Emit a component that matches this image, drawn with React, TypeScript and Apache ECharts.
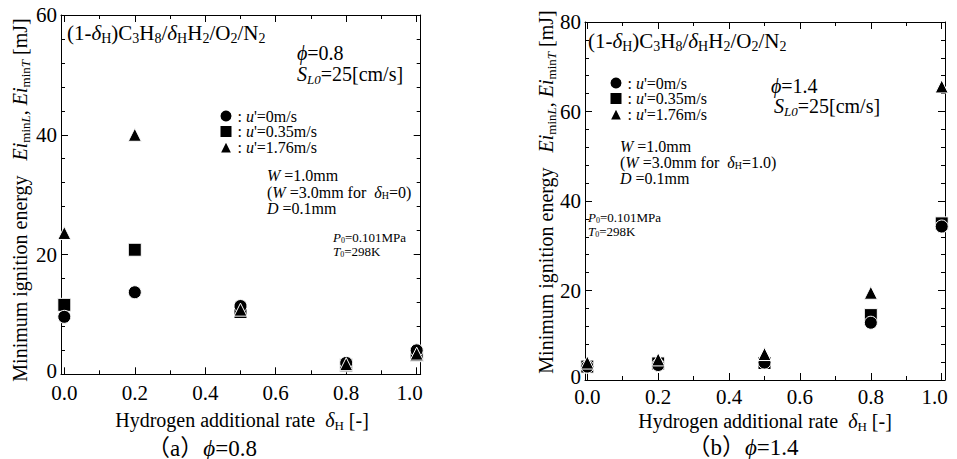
import React, { useEffect, useRef } from "react";
import * as echarts from "echarts";

// ---------- data ----------
const deltaH = [0, 0.2, 0.5, 0.8, 1.0];

// (a) phi = 0.8
const leftCircle = [9.6, 13.7, 11.4, 1.9, 4.0];
const leftSquare = [11.6, 20.8, 10.4, 1.5, 3.2];
const leftTriangle = [23.6, 40.0, 10.8, 1.7, 3.45];

// (b) phi = 1.4
const rightCircle = [3.0, 3.35, 3.9, 12.8, 34.3];
const rightSquare = [3.0, 3.7, 3.8, 14.5, 35.0];
const rightTriangle = [3.9, 4.6, 5.8, 19.5, 65.6];

const legendLabels = ["0m/s", "0.35m/s", "1.76m/s"];
const leftYMax = 60;
const rightYMax = 80;
const yInterval = 20;

const FONT = "Liberation Serif, Times New Roman, serif";
const CAPFONT = "Liberation Serif, Noto Sans CJK JP, serif";

function rich(size: number, family = FONT, lh?: number) {
  const sub = Math.round(size * 0.65);
  const L = lh ?? Math.round(size * 1.2);
  const subLH = Math.min(sub, L);
  return {
    n: { fontSize: size, fontFamily: family, lineHeight: L, fill: "#000", color: "#000" },
    i: { fontSize: size, fontFamily: family, fontStyle: "italic", lineHeight: L, fill: "#000", color: "#000" },
    s: { fontSize: sub, fontFamily: FONT, verticalAlign: "bottom", lineHeight: subLH, fill: "#000", color: "#000" },
    si: { fontSize: sub, fontFamily: FONT, fontStyle: "italic", verticalAlign: "bottom", lineHeight: subLH, fill: "#000", color: "#000" },
  };
}

function txt(x: number, y: number, text: string, size: number, align = "left", rotation = 0, family = FONT, lh?: number) {
  return {
    type: "text",
    x,
    y,
    rotation,
    silent: true,
    style: {
      text,
      rich: rich(size, family, lh),
      align,
      verticalAlign: "middle",
      fontSize: size,
      fontFamily: family,
      fill: "#000",
    },
  };
}

const formula = "{n|(1-}{i|δ}{s|H}{n|)C}{s|3}{n|H}{s|8}{n|/}{i|δ}{s|H}{n|H}{s|2}{n|/O}{s|2}{n|/N}{s|2}";
const yName = "{n|Minimum ignition energy   }{i|Ei}{s|min}{si|L}{n|, }{i|Ei}{s|min}{si|T}{n| [mJ]}";
const xName = "{n|Hydrogen additional rate  }{i|δ}{s|H}{n| [-]}";
const pBlock = "{i|P}{s|0}{n|=0.101MPa}\n{i|T}{s|0}{n|=298K}";
const wBlock = (d: string) =>
  "{i|W}{n| =1.0mm}\n{n|(}{i|W}{n| =3.0mm for  }{i|δ}{s|H}{n|=" + d + ")}\n{i|D}{n| =0.1mm}";

function xAxes(gridIndex: number, min: number, max: number, margin: number) {
  const base = {
    type: "value",
    gridIndex,
    min,
    max,
    splitLine: { show: false },
    axisLine: { show: true, onZero: false, lineStyle: { color: "#000", width: 1 } },
    axisTick: { show: true, inside: true, length: 7, lineStyle: { color: "#000" } },
    minorTick: { show: true, splitNumber: 2, length: 4, lineStyle: { color: "#000" } },
  };
  return [
    {
      ...base,
      position: "bottom",
      axisLabel: {
        show: true,
        margin,
        fontSize: 21,
        fontFamily: FONT,
        color: "#000",
        showMinLabel: true,
        showMaxLabel: true,
        formatter: (v: number) => {
          if (Math.abs(v * 5 - Math.round(v * 5)) > 1e-6) return "";
          const r = Math.round(v * 5) / 5;
          if (r === 1) return "{e|1.0}";
          return r.toFixed(1);
        },
        rich: { e: { fontSize: 21, fontFamily: FONT, color: "#000", padding: [0, 14, 0, 0] } },
      },
    },
    { ...base, position: "top", axisLabel: { show: false } },
  ];
}

function yAxes(gridIndex: number, max: number) {
  const base = {
    type: "value",
    gridIndex,
    min: 0,
    max,
    interval: yInterval,
    splitLine: { show: false },
    axisLine: { show: true, onZero: false, lineStyle: { color: "#000", width: 1 } },
    axisTick: { show: true, inside: true, length: 7, lineStyle: { color: "#000" } },
    minorTick: { show: true, splitNumber: 5, length: 4, lineStyle: { color: "#000" } },
  };
  return [
    {
      ...base,
      position: "left",
      axisLabel: {
        show: true,
        margin: 4,
        fontSize: 21,
        fontFamily: FONT,
        color: "#000",
        formatter: (v: number) => (v === 0 ? "{z|0}" : String(v)),
        rich: { z: { fontSize: 21, fontFamily: FONT, color: "#000", padding: [0, 0, 6, 0] } },
      },
    },
    { ...base, position: "right", axisLabel: { show: false } },
  ];
}

function series(prefix: string, xIdx: number, yIdx: number, c: number[], s: number[], t: number[]) {
  const mk = (name: string, arr: number[], symbol: string) => ({
    name,
    type: "scatter",
    xAxisIndex: xIdx,
    yAxisIndex: yIdx,
    symbol,
    symbolSize: 13,
    itemStyle: { color: "#000", opacity: 1, borderColor: "#fff", borderWidth: 1 },
    emphasis: { disabled: true },
    data: deltaH.map((x, i) => [x, arr[i]]),
  });
  // drawing order: square, circle, triangle (triangle on top)
  return [mk(prefix + "s", s, "rect"), mk(prefix + "c", c, "circle"), mk(prefix + "t", t, "triangle")];
}

function legend(prefix: string, left: number, top: number, lh: number, gap: number) {
  const names = [prefix + "c", prefix + "s", prefix + "t"];
  const fs = 16;
  return {
    data: names,
    orient: "vertical",
    left,
    top,
    itemWidth: 13,
    itemHeight: 13,
    itemGap: gap,
    padding: 0,
    selectedMode: false,
    itemStyle: { opacity: 1 },
    formatter: (name: string) => {
      const idx = names.indexOf(name);
      return "{n|: }{i|u}{n|'=" + legendLabels[idx] + "}";
    },
    textStyle: {
      fontFamily: FONT,
      fontSize: fs,
      color: "#000",
      rich: {
        n: { fontSize: fs, fontFamily: FONT, lineHeight: lh, color: "#000" },
        i: { fontSize: fs, fontFamily: FONT, fontStyle: "italic", lineHeight: lh, color: "#000" },
      },
    },
  };
}

export default function App() {
  const ref = useRef<HTMLDivElement>(null);
  useEffect(() => {
    if (!ref.current) return;
    const chart = echarts.init(ref.current, undefined, { renderer: "svg" });
    const option: any = {
      animation: false,
      backgroundColor: "#fff",
      textStyle: { fontFamily: FONT },
      grid: [
        { left: 61, top: 15, width: 359.7, height: 359.3 },
        { left: 585, top: 22, width: 360, height: 358 },
      ],
      xAxis: [...xAxes(0, -0.0094, 1.0114, 8), ...xAxes(1, -0.0065, 1.0093, 6)],
      yAxis: [...yAxes(0, leftYMax), ...yAxes(1, rightYMax)],
      legend: [legend("L", 218.5, 108, 14.5, -0.5), legend("R", 608.5, 75, 14.5, -0.5)],
      series: [
        ...series("L", 0, 0, leftCircle, leftSquare, leftTriangle),
        ...series("R", 2, 2, rightCircle, rightSquare, rightTriangle),
      ],
      graphic: [
        // left chart
        txt(20, 200, yName, 20, "center", Math.PI / 2),
        txt(67, 33, formula, 21),
        txt(297, 53, "{i|ϕ}{n|=0.8}", 20),
        txt(297, 74, "{i|S}{si|L0}{n|=25[cm/s]}", 20),
        txt(267, 192, wBlock("0"), 16, "left", 0, FONT, 16.5),
        txt(333, 244.5, pBlock, 13, "left", 0, FONT, 14),
        txt(242, 420, xName, 20, "center"),
        txt(202, 448, "{n|（a）}{i|ϕ}{n|=0.8}", 23, "center", 0, CAPFONT),
        // right chart
        txt(546, 192, yName, 20, "center", Math.PI / 2),
        txt(588, 41, formula, 21),
        txt(771, 85.5, "{i|ϕ}{n|=1.4}", 20),
        txt(774, 106, "{i|S}{si|L0}{n|=25[cm/s]}", 20),
        txt(620, 162, wBlock("1.0"), 16, "left", 0, FONT, 16),
        txt(588, 224, pBlock, 13, "left", 0, FONT, 14),
        txt(765, 420.5, xName, 20, "center"),
        txt(743, 447, "{n|（b）}{i|ϕ}{n|=1.4}", 23, "center", 0, CAPFONT),
      ],
    };
    chart.setOption(option);
    return () => chart.dispose();
  }, []);
  return (
    <div
      ref={ref}
      style={{ position: "absolute", left: 0, top: 0, width: 957, height: 459, background: "#fff" }}
    />
  );
}
